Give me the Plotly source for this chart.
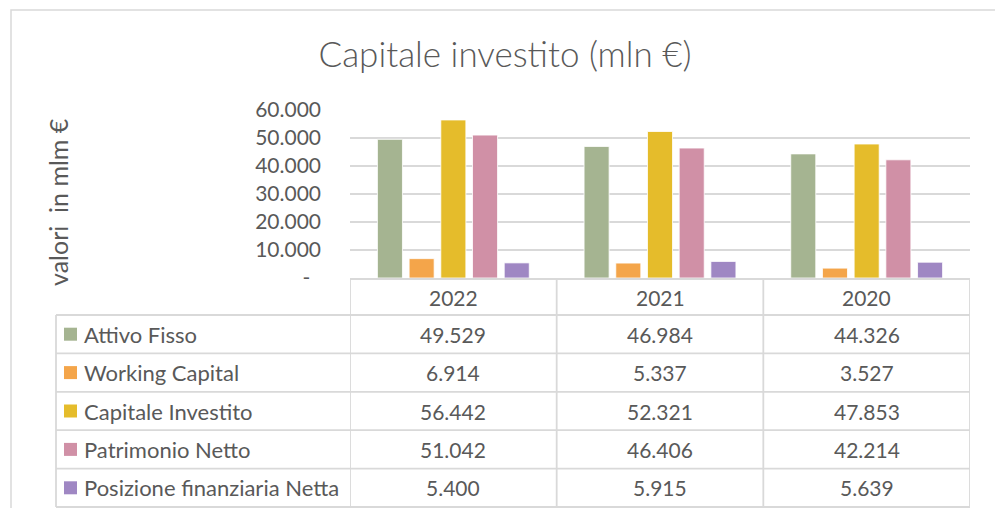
import plotly.graph_objects as go

# ---------------- data ----------------
years = ["2022", "2021", "2020"]
series_names = ["Attivo Fisso", "Working Capital", "Capitale Investito",
                "Patrimonio Netto", "Posizione finanziaria Netta"]
attivo_fisso = [49529, 46984, 44326]
working_capital = [6914, 5337, 3527]
capitale_investito = [56442, 52321, 47853]
patrimonio_netto = [51042, 46406, 42214]
posizione_fin_netta = [5400, 5915, 5639]
series_values = [attivo_fisso, working_capital, capitale_investito,
                 patrimonio_netto, posizione_fin_netta]
colors = ["#A5B491", "#F4A54A", "#E5BC2B", "#D090A6", "#9F87C3"]
y_tickvals = [0, 10000, 20000, 30000, 40000, 50000, 60000]
y_ticktext = ["-\u00a0\u00a0", "10.000", "20.000", "30.000",
              "40.000", "50.000", "60.000"]

# ---------------- layout geometry (pixels) ----------------
W_FIG, H_FIG = 995, 508
PL, PR = 350, 970      # plot area left/right
PT, PB = 110, 278      # plot area top/bottom
FONT = "Lato, 'Open Sans', sans-serif"
TXT = "#595959"
GRID = "#D9D9D9"


def fx(px):
    return (px - PL) / (PR - PL)


def fy(py):
    return (PB - py) / (PB - PT)


def fmt(v):
    return f"{v:,}".replace(",", ".")


fig = go.Figure()
for name, vals, col in zip(series_names, series_values, colors):
    fig.add_trace(go.Bar(
        x=years, y=vals, name=name,
        marker=dict(color=col, line=dict(color="white", width=0.8)),
        showlegend=False,
    ))

shapes = []
annotations = []

# chart outer frame (top & left edges visible)
shapes.append(dict(type="rect", xref="paper", yref="paper",
                   x0=fx(11), x1=fx(1100), y0=fy(10), y1=fy(700),
                   line=dict(color=GRID, width=1.5), fillcolor="rgba(0,0,0,0)",
                   layer="below"))

# ---------------- data table ----------------
header_top = 279
header_bot = 315
row_h = 38.4
n_rows = len(series_names)
row_edges = [header_bot + i * row_h for i in range(n_rows + 1)]
table_left = 56
col_edges = [-0.5, 0.5, 1.5, 2.5]
line_style = dict(color=GRID, width=1.8)

# horizontal lines
shapes.append(dict(type="line", xref="x", yref="paper",
                   x0=col_edges[0], x1=col_edges[-1],
                   y0=fy(header_top), y1=fy(header_top), line=line_style))
for yy in row_edges:
    shapes.append(dict(type="line", xref="paper", yref="paper",
                       x0=fx(table_left), x1=fx(PR),
                       y0=fy(yy), y1=fy(yy), line=line_style))
# vertical lines
shapes.append(dict(type="line", xref="paper", yref="paper",
                   x0=fx(table_left), x1=fx(table_left),
                   y0=fy(header_bot), y1=fy(row_edges[-1]), line=line_style))
for xe in col_edges:
    shapes.append(dict(type="line", xref="x", yref="paper",
                       x0=xe, x1=xe,
                       y0=fy(header_top), y1=fy(row_edges[-1]), line=line_style))

# header text
for i, yr in enumerate(years):
    annotations.append(dict(xref="x", yref="paper", x=i,
                            y=fy((header_top + header_bot) / 2),
                            xanchor="center", yanchor="middle",
                            text=yr, showarrow=False,
                            font=dict(family=FONT, size=21, color=TXT)))

# rows
for r, (name, vals, col) in enumerate(zip(series_names, series_values, colors)):
    yc = (row_edges[r] + row_edges[r + 1]) / 2
    shapes.append(dict(type="rect", xref="paper", yref="paper",
                       x0=fx(64), x1=fx(77), y0=fy(yc - 6.5), y1=fy(yc + 6.5),
                       fillcolor=col, line=dict(width=0)))
    annotations.append(dict(xref="paper", yref="paper", x=fx(82), y=fy(yc),
                            xanchor="left", yanchor="middle",
                            text=name, showarrow=False,
                            font=dict(family=FONT, size=22, color=TXT)))
    for i, v in enumerate(vals):
        annotations.append(dict(xref="x", yref="paper", x=i, y=fy(yc),
                                xanchor="center", yanchor="middle",
                                text=fmt(v), showarrow=False,
                                font=dict(family=FONT, size=21, color=TXT)))

# y-axis title
annotations.append(dict(xref="paper", yref="paper", x=fx(58), y=fy(202),
                        xanchor="center", yanchor="middle",
                        text="valori\u00a0 in mlm €", textangle=-90, showarrow=False,
                        font=dict(family=FONT, size=25, color=TXT)))

fig.update_layout(
    width=W_FIG, height=H_FIG, autosize=False,
    margin=dict(l=PL, r=W_FIG - PR, t=PT, b=H_FIG - PB, pad=0),
    paper_bgcolor="white", plot_bgcolor="white",
    title=dict(text="Capitale investito (mln €)", x=fx(505), xanchor="center",
               y=1 - 55 / H_FIG, yanchor="middle", xref="paper",
               font=dict(family=FONT, size=35, color=TXT, weight=300)),
    barmode="group", bargap=0.233, bargroupgap=0.21,
    font=dict(family=FONT, color=TXT),
    xaxis=dict(type="category", range=[-0.5, 2.5], showticklabels=False,
               showgrid=False, zeroline=False, showline=False, ticks=""),
    yaxis=dict(range=[0, 60000], tickvals=y_tickvals, ticktext=y_ticktext,
               showgrid=True, gridcolor=GRID, gridwidth=1.5, zeroline=False,
               showline=False, ticks="", ticklabelstandoff=28,
               tickfont=dict(family=FONT, size=21, color=TXT)),
    shapes=shapes, annotations=annotations,
)

fig.write_html("out.html",
               config={"displayModeBar": False},
               post_script="document.body.style.margin='0';"
                           "document.body.style.padding='0';")
